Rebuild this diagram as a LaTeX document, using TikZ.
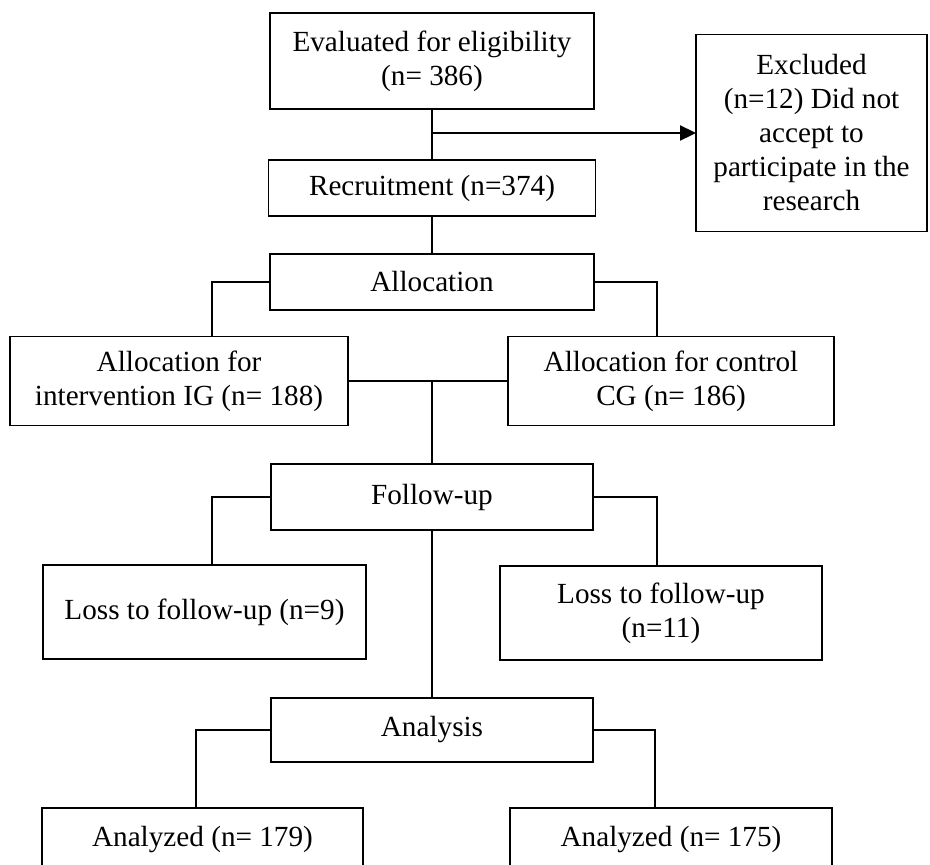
\documentclass[tikz,border=0pt]{standalone}
\usepackage{fontspec}
\setmainfont{Liberation Serif}
\usetikzlibrary{arrows.meta}
\tikzset{
  box/.style={draw, line width=1.7pt, rectangle, inner sep=0pt, outer sep=0pt, align=center,
    font=\fontsize{29.2pt}{34pt}\selectfont},
  conn/.style={line width=1.4pt},
  arrowline/.style={line width=2.3pt, -{Triangle[length=16pt,width=15pt]}}
}
\begin{document}
\begin{tikzpicture}[x=1pt,y=-1pt]
\useasboundingbox (0,0) rectangle (930,865);
\clip (0,0) rectangle (930,865);
\fill[white] (0,0) rectangle (930,865);

\node[box, minimum width=324pt, minimum height=96pt] (eval) at (432,61) {Evaluated for eligibility\\(n= 386)};
\node[box, minimum width=231pt, minimum height=197pt] (excl) at (811.5,133) {Excluded\\(n=12) Did not\\accept to\\participate in the\\research};
\node[box, minimum width=327pt, minimum height=56pt] (recruit) at (432,188) {Recruitment (n=374)};
\node[box, minimum width=324pt, minimum height=56pt] (alloc) at (432,282) {Allocation};
\node[box, minimum width=338pt, minimum height=89pt] (ig) at (179,381) {Allocation for\\intervention IG (n= 188)};
\node[box, minimum width=326pt, minimum height=89pt] (cg) at (671,381) {Allocation for control\\CG (n= 186)};
\node[box, minimum width=322pt, minimum height=66pt] (follow) at (432,497) {Follow-up};
\node[box, minimum width=323pt, minimum height=94pt] (loss9) at (204.5,612) {Loss to follow-up (n=9)};
\node[box, minimum width=322pt, minimum height=94pt] (loss11) at (661,613) {Loss to follow-up\\(n=11)};
\node[box, minimum width=322pt, minimum height=64pt] (analysis) at (432,730) {Analysis};
\node[box, minimum width=321pt, minimum height=64pt] (an179) at (202.5,840) {Analyzed (n= 179)};
\node[box, minimum width=322pt, minimum height=64pt] (an175) at (671,840) {Analyzed (n= 175)};

\draw[conn] (eval.south) -- (recruit.north);
\draw[arrowline] ([yshift=-24pt]eval.south) -- (excl.west);
\draw[conn] (recruit.south) -- (alloc.north);
\draw[conn] (alloc.west) -| ([xshift=202pt]ig.north west);
\draw[conn] (alloc.east) -| ([xshift=-177pt]cg.north east);
\draw[conn] (ig.east) -- (cg.west);
\draw[conn] (ig.east -| follow.north) -- (follow.north);
\draw[conn] (follow.west) -| ([xshift=169pt]loss9.north west);
\draw[conn] (follow.east) -| ([xshift=-165pt]loss11.north east);
\draw[conn] (follow.south) -- (analysis.north);
\draw[conn] (analysis.west) -| ([xshift=154pt]an179.north west);
\draw[conn] (analysis.east) -| ([xshift=-177pt]an175.north east);
\end{tikzpicture}
\end{document}
